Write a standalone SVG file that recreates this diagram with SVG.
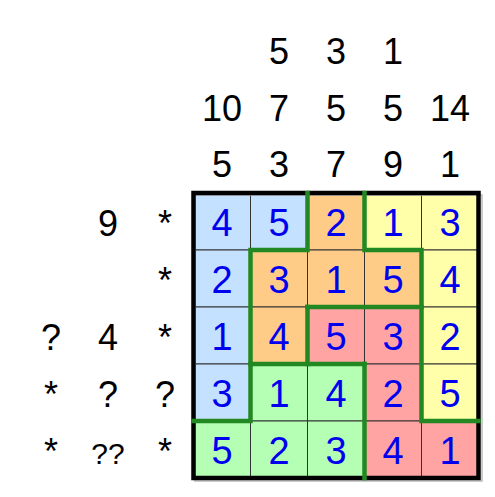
<svg xmlns="http://www.w3.org/2000/svg" width="495" height="497" viewBox="0 0 495 497">
<style>
.b{fill:#C4E1FF}.o{fill:#FFCC88}.y{fill:#FFFFAA}.r{fill:#FFA3A3}.g{fill:#B4FFB4}
.cell rect{stroke:#333;stroke-width:1}
.d{font-family:"Liberation Sans",Arial,sans-serif;font-size:38px;fill:#0000EE;text-anchor:middle}
.c{font-family:"Liberation Sans",Arial,sans-serif;font-size:36px;fill:#000;text-anchor:middle}
.reg{stroke:#228822;stroke-width:4.5;stroke-linecap:square;fill:none}
</style>
<rect width="495" height="497" fill="#fff"/>
<g id="clues-top">
<text class="c" x="279" y="64">5</text><text class="c" x="336" y="64">3</text><text class="c" x="393" y="64">1</text>
<text class="c" x="222" y="121">10</text><text class="c" x="279" y="121">7</text><text class="c" x="336" y="121">5</text><text class="c" x="393" y="121">5</text><text class="c" x="450" y="121">14</text>
<text class="c" x="222" y="177">5</text><text class="c" x="279" y="177">3</text><text class="c" x="336" y="177">7</text><text class="c" x="393" y="177">9</text><text class="c" x="450" y="177">1</text>
</g>
<g id="clues-left">
<text class="c" x="108" y="236">9</text><text class="c" x="165" y="236">*</text>
<text class="c" x="165" y="293">*</text>
<text class="c" x="51" y="350">?</text><text class="c" x="108" y="350">4</text><text class="c" x="165" y="350">*</text>
<text class="c" x="51" y="407">*</text><text class="c" x="108" y="407">?</text><text class="c" x="165" y="407">?</text>
<text class="c" x="51" y="464">*</text><text class="c" x="108" y="464" style="font-size:30px">??</text><text class="c" x="165" y="464">*</text>
</g>
<g id="grid" class="cell">
<g id="r0">
<rect class="b" x="193.5" y="193" width="57" height="57"/><rect class="b" x="250.5" y="193" width="57" height="57"/><rect class="o" x="307.5" y="193" width="57" height="57"/><rect class="y" x="364.5" y="193" width="57" height="57"/><rect class="y" x="421.5" y="193" width="57" height="57"/>
</g>
<g id="r1">
<rect class="b" x="193.5" y="250" width="57" height="57"/><rect class="o" x="250.5" y="250" width="57" height="57"/><rect class="o" x="307.5" y="250" width="57" height="57"/><rect class="o" x="364.5" y="250" width="57" height="57"/><rect class="y" x="421.5" y="250" width="57" height="57"/>
</g>
<g id="r2">
<rect class="b" x="193.5" y="307" width="57" height="57"/><rect class="o" x="250.5" y="307" width="57" height="57"/><rect class="r" x="307.5" y="307" width="57" height="57"/><rect class="r" x="364.5" y="307" width="57" height="57"/><rect class="y" x="421.5" y="307" width="57" height="57"/>
</g>
<g id="r3">
<rect class="b" x="193.5" y="364" width="57" height="57"/><rect class="g" x="250.5" y="364" width="57" height="57"/><rect class="g" x="307.5" y="364" width="57" height="57"/><rect class="r" x="364.5" y="364" width="57" height="57"/><rect class="y" x="421.5" y="364" width="57" height="57"/>
</g>
<g id="r4">
<rect class="g" x="193.5" y="421" width="57" height="57"/><rect class="g" x="250.5" y="421" width="57" height="57"/><rect class="g" x="307.5" y="421" width="57" height="57"/><rect class="r" x="364.5" y="421" width="57" height="57"/><rect class="r" x="421.5" y="421" width="57" height="57"/>
</g>
</g>
<g id="digits">
<text class="d" x="222" y="236">4</text><text class="d" x="279" y="236">5</text><text class="d" x="336" y="236">2</text><text class="d" x="393" y="236">1</text><text class="d" x="450" y="236">3</text>
<text class="d" x="222" y="293">2</text><text class="d" x="279" y="293">3</text><text class="d" x="336" y="293">1</text><text class="d" x="393" y="293">5</text><text class="d" x="450" y="293">4</text>
<text class="d" x="222" y="350">1</text><text class="d" x="279" y="350">4</text><text class="d" x="336" y="350">5</text><text class="d" x="393" y="350">3</text><text class="d" x="450" y="350">2</text>
<text class="d" x="222" y="407">3</text><text class="d" x="279" y="407">1</text><text class="d" x="336" y="407">4</text><text class="d" x="393" y="407">2</text><text class="d" x="450" y="407">5</text>
<text class="d" x="222" y="464">5</text><text class="d" x="279" y="464">2</text><text class="d" x="336" y="464">3</text><text class="d" x="393" y="464">4</text><text class="d" x="450" y="464">1</text>
</g>
<rect id="shadow" x="195" y="195" width="287" height="286" fill="none" stroke="#bbb" stroke-width="1.5"/>
<rect id="border" x="193.5" y="193" width="285" height="285" fill="none" stroke="#000" stroke-width="4.5"/>
<g id="regions" class="reg">
<path d="M307.5 193V250H250.5V421H193.5"/>
<path d="M364.5 193V250H421.5V421H478.5"/>
<path d="M307.5 307H421.5"/>
<path d="M307.5 307V364H250.5"/>
<path d="M364.5 364H307.5"/>
<path d="M364.5 364V478"/>
</g>
</svg>
